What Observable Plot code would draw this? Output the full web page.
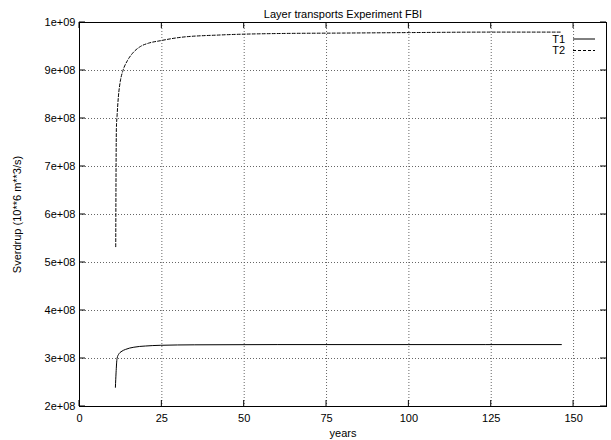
<!DOCTYPE html>
<html>
<head>
<meta charset="utf-8">
<script src="https://cdn.jsdelivr.net/npm/d3@7"></script>
<script src="https://cdn.jsdelivr.net/npm/@observablehq/plot@0.6"></script>
<style>
  html, body { margin: 0; padding: 0; background: #fff; }
</style>
</head>
<body>
<div id="chart"></div>
<script>
const title = "Layer transports Experiment FBI";
const xLabel = "years";
const yLabel = "Sverdrup (10**6 m**3/s)";

const xTicks = [0, 25, 50, 75, 100, 125, 150];
const yTicks = [2e8, 3e8, 4e8, 5e8, 6e8, 7e8, 8e8, 9e8, 1e9];
const yTickLabels = ["2e+08", "3e+08", "4e+08", "5e+08", "6e+08", "7e+08", "8e+08", "9e+08", "1e+09"];

const seriesNames = ["T1", "T2"];

const t1Years  = [10.9, 11.1, 11.4, 12.0, 12.6, 14.0, 16.5, 20.0, 24.5, 35, 60, 100, 146.3];
const t1Values = [2.40e8, 2.70e8, 3.00e8, 3.10e8, 3.14e8, 3.19e8, 3.235e8, 3.26e8, 3.275e8, 3.285e8, 3.29e8, 3.29e8, 3.29e8];

const t2Years  = [11.0, 11.1, 11.2, 11.4, 11.8, 12.4, 13.2, 14.5, 16.0, 18.5, 21.0, 24.5, 30.6, 42.7, 60, 80, 100, 125, 146.5];
const t2Values = [5.33e8, 7.0e8, 7.8e8, 8.05e8, 8.45e8, 8.78e8, 9.0e8, 9.2e8, 9.35e8, 9.5e8, 9.57e8, 9.62e8, 9.69e8, 9.74e8, 9.77e8, 9.78e8, 9.79e8, 9.8e8, 9.8e8];

const t1 = t1Years.map((x, i) => ({x, y: t1Values[i]}));
const t2 = t2Years.map((x, i) => ({x, y: t2Values[i]}));
const yFmt = v => yTickLabels[yTicks.indexOf(v)] ?? "";

const plot = Plot.plot({
  width: 611,
  height: 440,
  marginLeft: 79,
  marginRight: 5,
  marginTop: 22,
  marginBottom: 34,
  style: {fontFamily: "'Liberation Sans', Arial, Helvetica, sans-serif", fontSize: "11px", color: "black", background: "white"},
  x: {domain: [0, 160]},
  y: {domain: [2e8, 1e9]},
  marks: [
    Plot.gridX(xTicks, {stroke: "#555", strokeOpacity: 0.9, strokeDasharray: "1,2"}),
    Plot.gridY(yTicks, {stroke: "#555", strokeOpacity: 0.9, strokeDasharray: "1,2"}),
    Plot.axisX(xTicks, {anchor: "bottom", tickSize: 0, tickPadding: 8, fontSize: 11,
      label: xLabel, labelAnchor: "center", labelOffset: 30, labelArrow: "none"}),
    Plot.axisY(yTicks, {anchor: "left", tickSize: 0, tickPadding: 4, tickFormat: yFmt, fontSize: 11,
      label: yLabel, labelAnchor: "center", labelOffset: 66, labelArrow: "none"}),
    Plot.line(t1, {x: "x", y: "y", stroke: "black", strokeWidth: 1, curve: "monotone-x"}),
    Plot.line(t2, {x: "x", y: "y", stroke: "black", strokeWidth: 1, strokeDasharray: "3,2", curve: "monotone-x"}),
    Plot.frame({stroke: "black", strokeWidth: 1}),
    Plot.text([title], {frameAnchor: "top", dy: -12, fontSize: 11, fill: "black"})
  ]
});

const svg = d3.select(plot);
const sx = plot.scale("x"), sy = plot.scale("y");
const [x0, x1] = sx.range, [y0, y1] = sy.range; // y0 bottom, y1 top
const L = 6;
// inward ticks on all four sides (gnuplot style), placed through Plot's scales
const tk = svg.append("g").attr("stroke", "black").attr("stroke-width", 1);
xTicks.forEach(v => {
  const px = sx.apply(v);
  tk.append("line").attr("x1", px).attr("x2", px).attr("y1", y0).attr("y2", y0 - L);
  tk.append("line").attr("x1", px).attr("x2", px).attr("y1", y1).attr("y2", y1 + L);
});
yTicks.forEach(v => {
  const py = sy.apply(v);
  tk.append("line").attr("y1", py).attr("y2", py).attr("x1", x0).attr("x2", x0 + L);
  tk.append("line").attr("y1", py).attr("y2", py).attr("x1", x1).attr("x2", x1 - L);
});

// legend (gnuplot-style key, top right)
const key = svg.append("g").attr("font-size", 11).attr("fill", "black");
seriesNames.forEach((name, i) => {
  const cy = 39 + i * 11.5;
  key.append("text").attr("x", 565).attr("y", cy).attr("dy", "0.35em")
    .attr("text-anchor", "end").text(name);
  key.append("line").attr("x1", 573).attr("x2", 595).attr("y1", cy).attr("y2", cy)
    .attr("stroke", "black").attr("stroke-width", 1)
    .attr("stroke-dasharray", i === 1 ? "3,2" : null);
});

document.getElementById("chart").appendChild(plot);
</script>
</body>
</html>
